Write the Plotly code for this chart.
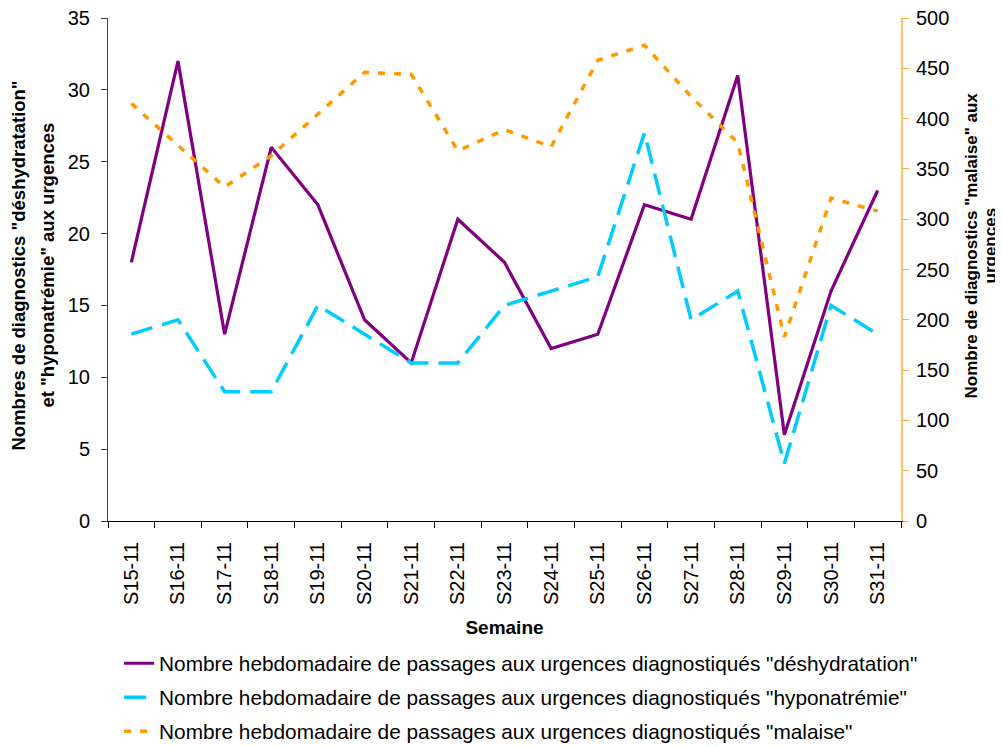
import plotly.graph_objects as go

semaines = ["S15-11", "S16-11", "S17-11", "S18-11", "S19-11", "S20-11", "S21-11", "S22-11",
            "S23-11", "S24-11", "S25-11", "S26-11", "S27-11", "S28-11", "S29-11", "S30-11", "S31-11"]
deshydratation = [18, 32, 13, 26, 22, 14, 11, 21, 18, 12, 13, 22, 21, 31, 6, 16, 23]
hyponatremie = [13, 14, 9, 9, 15, 13, 11, 11, 15, 16, 17, 27, 14, 16, 4, 15, 13]
malaise = [415, 373, 332, 363, 404, 446, 444, 368, 389, 372, 458, 473, 422, 376, 183, 321, 308]

FONT = "Liberation Sans, Arial, sans-serif"

fig = go.Figure()
fig.add_trace(go.Scatter(
    x=semaines, y=deshydratation, mode="lines",
    name='Nombre hebdomadaire de passages aux urgences diagnostiqués "déshydratation"',
    line=dict(color="#800080", width=3.2), legendgroup="a"))
fig.add_trace(go.Scatter(
    x=semaines, y=hyponatremie, mode="lines",
    name='Nombre hebdomadaire de passages aux urgences diagnostiqués "hyponatrémie"',
    line=dict(color="#00CCFF", width=3.5, dash="22px,10px"), legendgroup="b"))
fig.add_trace(go.Scatter(
    x=semaines, y=malaise, mode="lines", yaxis="y2",
    name='Nombre hebdomadaire de passages aux urgences diagnostiqués "malaise"',
    line=dict(color="#FF9900", width=3.5, dash="7px,9px"), legendgroup="c"))

fig.update_layout(
    width=1003, height=746,
    margin=dict(l=100, r=110, t=10, b=233, autoexpand=False),
    paper_bgcolor="white", plot_bgcolor="white",
    font=dict(family=FONT, size=20, color="black"),
    showlegend=True,
    legend=dict(
        x=0.014, y=-0.243, yanchor="top", xanchor="left",
        font=dict(family=FONT, size=20.8, color="black"),
        tracegroupgap=4, bgcolor="rgba(0,0,0,0)"),
    xaxis=dict(
        type="category", showline=True, linecolor="black", linewidth=1,
        ticks="outside", ticklen=6, tickcolor="black", tickson="boundaries",
        tickangle=-90, showgrid=False, zeroline=False,
        tickfont=dict(size=20), ticklabelstandoff=12,
        title=dict(text="<b>Semaine</b>", font=dict(size=19), standoff=16),
        range=[-0.5, 16.5]),
    yaxis=dict(
        range=[0, 35], dtick=5, showline=True, linecolor="#444", linewidth=1,
        ticks="outside", ticklen=6, tickcolor="#444", showgrid=False, zeroline=False,
        tickfont=dict(size=20), ticklabelstandoff=7, ticklabeloverflow="allow"),
    yaxis2=dict(
        range=[0, 500], dtick=50, overlaying="y", side="right", anchor="x",
        showline=True, linecolor="#FFC266", linewidth=2,
        ticks="outside", ticklen=6, tickcolor="#FFAA33", showgrid=False, zeroline=False,
        tickfont=dict(size=20, color="black"), ticklabelstandoff=3, ticklabeloverflow="allow"),
    annotations=[
        dict(text='<b>Nombres de diagnostics "déshydratation"</b>', textangle=-90,
             xref="paper", yref="paper", x=0, y=0.5, xanchor="center", yanchor="middle",
             xshift=-90, yshift=4, showarrow=False, font=dict(size=18.5)),
        dict(text='<b>et "hyponatrémie" aux urgences</b>', textangle=-90,
             xref="paper", yref="paper", x=0, y=0.5, xanchor="center", yanchor="middle",
             xshift=-61, yshift=4, showarrow=False, font=dict(size=18.5)),
        dict(text='<b>Nombre de diagnostics "malaise" aux</b>', textangle=-90,
             xref="paper", yref="paper", x=1, y=0.5, xanchor="center", yanchor="middle",
             xshift=70, yshift=24, showarrow=False, font=dict(size=17)),
        dict(text='<b>urgences</b>', textangle=-90,
             xref="paper", yref="paper", x=1, y=0.5, xanchor="center", yanchor="middle",
             xshift=89, yshift=24, showarrow=False, font=dict(size=17)),
    ],
)

fig.write_html("out.html")
